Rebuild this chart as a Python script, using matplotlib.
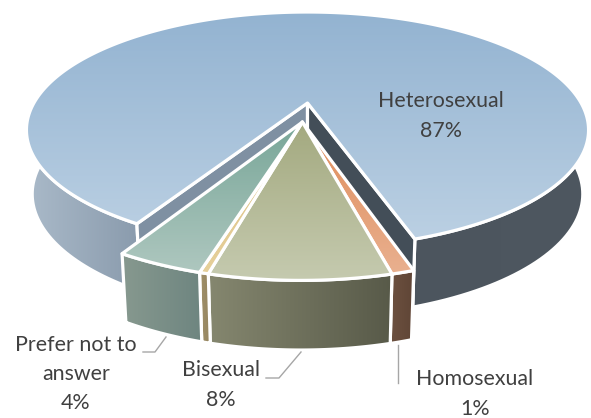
import numpy as np
import matplotlib
matplotlib.use("Agg")
import matplotlib.pyplot as plt
from matplotlib.patches import Polygon
from matplotlib.colors import to_rgb

plt.rcParams['font.family'] = ['Lato', 'DejaVu Sans']

categories = ["Heterosexual", "Homosexual", "Bisexual", "", "Prefer not to\nanswer"]
values = [86.7, 1.0, 8.0, 0.4, 3.9]
top_colors = [("#93b3d1", "#bbd0e3"), ("#df8c5a", "#e9b08f"), ("#a3a97f", "#c5caaf"),
              ("#dcc084", "#e6d09a"), ("#78a698", "#aec7bf")]
side_colors = [None, ("#6d5140", "#5f4536"), ("#85876f", "#585a49"),
               ("#a09069", "#958560"), ("#87998f", "#6e8580")]
label_xy = [(441, 116), (475, 394), (221, 385), None, (76, 374)]
leaders = [None,
           ([398, 398], [345, 383]),
           ([301, 279, 266], [352, 378, 378]),
           None,
           ([166, 155, 143], [337, 352, 352])]

START_ANGLE = 210.0
EXPLODE = (-0.018, -0.164)
TOP = dict(x0=307.5, y0=103.0, a=273.6, b=111.8, p=0.2288)
BOTTOM = dict(x0=307.5, y0=166.0, a=268.0, b=116.0, p=0.2288)
EDGE = 2.3


def project(theta, plane, offset=(0.0, 0.0)):
    theta = np.radians(theta)
    u = np.sin(theta) + offset[0]
    v = np.cos(theta) + offset[1]
    w = 1 + plane['p'] * v
    return np.column_stack([plane['x0'] + plane['a'] * u / w,
                            plane['y0'] - plane['b'] * v / w])


def centre(plane, offset=(0.0, 0.0)):
    w = 1 + plane['p'] * offset[1]
    return [plane['x0'] + plane['a'] * offset[0] / w, plane['y0'] - plane['b'] * offset[1] / w]


fig = plt.figure(figsize=(5.91, 4.18), dpi=100)
ax = fig.add_axes([0, 0, 1, 1])


def gradient_poly(verts, c0, c1, horizontal, z):
    verts = np.asarray(verts)
    x0, y0 = verts.min(axis=0)
    x1, y1 = verts.max(axis=0)
    t = np.linspace(0, 1, 128)[:, None]
    col = np.array(to_rgb(c0))[None, :] * (1 - t) + np.array(to_rgb(c1))[None, :] * t
    img = col[None, :, :] if horizontal else col[:, None, :]
    im = ax.imshow(img, extent=(x0, x1, y1, y0), origin='upper', aspect='auto',
                   interpolation='bilinear', zorder=z)
    clip = Polygon(verts, closed=True, transform=ax.transData, fc='none', ec='none')
    ax.add_patch(clip)
    im.set_clip_path(clip)
    ax.add_patch(Polygon(verts, closed=True, fc='none', ec='white', lw=EDGE,
                         joinstyle='round', zorder=z + 0.05))


def wall(t0, t1, c0, c1, z, offset=(0.0, 0.0)):
    th = np.linspace(t0, t1, 80)
    verts = np.vstack([project(th, TOP, offset), project(th[::-1], BOTTOM, offset)])
    gradient_poly(verts, c0, c1, True, z)


def cut_wall(theta, color, z):
    t = np.array([theta])
    pts = np.vstack([project(t, TOP), [centre(TOP)], [centre(BOTTOM)], project(t, BOTTOM)])
    ax.add_patch(Polygon(pts, closed=True, fc=color, ec='white', lw=EDGE, zorder=z))


edges = START_ANGLE + np.concatenate([[0], np.cumsum(values)]) * 3.6

# heterosexual: outer walls, cut walls, top
het_end = edges[1]
wall(START_ANGLE, 310, "#aabac9", "#8a9bad", 1)
wall(het_end, 400, "#4c555e", "#4e5760", 1)
cut_wall(START_ANGLE, "#7f90a2", 1.5)
cut_wall(het_end, "#434e58", 1.6)
th = np.linspace(edges[0], edges[1], 400)
gradient_poly(np.vstack([[centre(TOP)], project(th, TOP)]),
              top_colors[0][0], top_colors[0][1], False, 2)

# exploded slices: outer walls first, tops above them
for i in range(1, len(values)):
    wall(edges[i], edges[i + 1], side_colors[i][0], side_colors[i][1], 3 + i * 0.1, EXPLODE)
for i in range(1, len(values)):
    th = np.linspace(edges[i], edges[i + 1], 60)
    gradient_poly(np.vstack([[centre(TOP, EXPLODE)], project(th, TOP, EXPLODE)]),
                  top_colors[i][0], top_colors[i][1], False, 4 + i * 0.1)

# labels and leader lines
for cat, val, xy, lead in zip(categories, values, label_xy, leaders):
    if xy is not None:
        ax.text(xy[0], xy[1], f"{cat}\n{round(val)}%", ha='center', va='center',
                ma='center', fontsize=15.4, color='#404040', linespacing=1.58, zorder=10)
    if lead is not None:
        ax.plot(lead[0], lead[1], color='#a6a6a6', lw=1.0, zorder=9)

ax.set_xlim(0, 591)
ax.set_ylim(418, 0)
ax.axis('off')
fig.savefig('out.png', dpi=100, facecolor='white')
